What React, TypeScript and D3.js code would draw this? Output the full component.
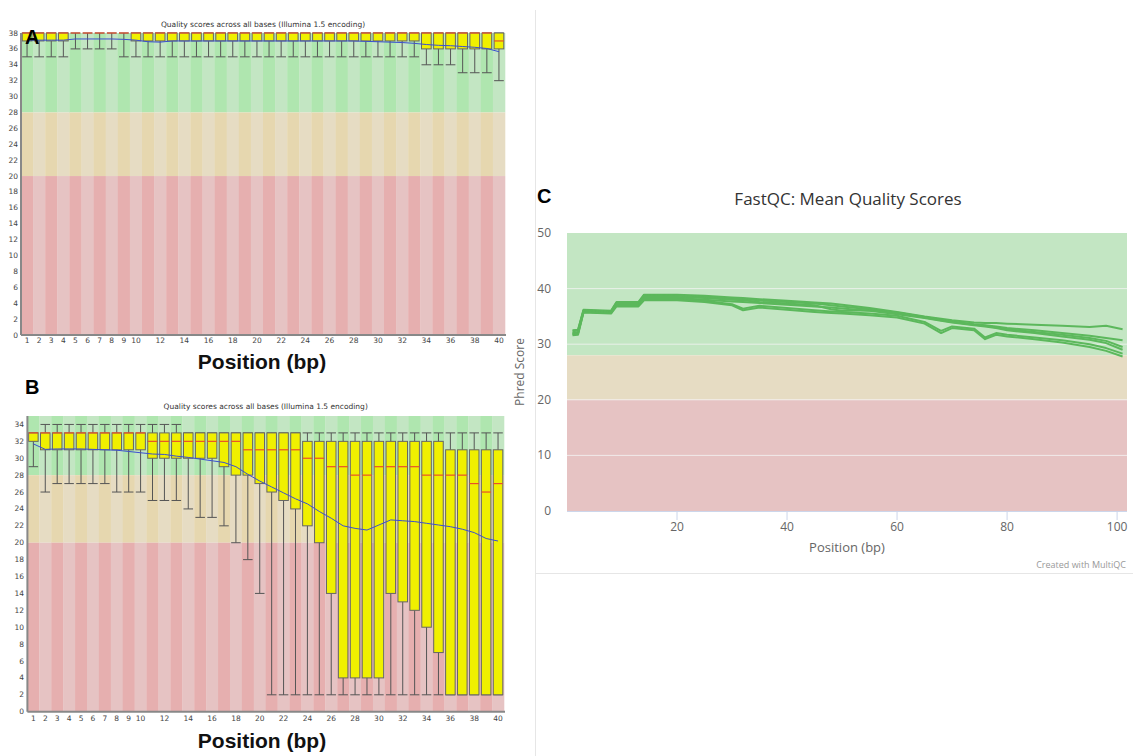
import React from 'react';
import * as d3 from 'd3';

// ---- shared categories ----
const bins = [1,2,3,4,5,6,7,8,9,10,11,12,13,14,15,16,17,18,19,20,21,22,23,24,25,26,27,28,29,30,31,32,33,34,35,36,37,38,39,40];
const binLabels = ['1','2','3','4','5','6','7','8','9','10','12','14','16','18','20','22','24','26','28','30','32','34','36','38','40'];
const title = 'Quality scores across all bases (Illumina 1.5 encoding)';

// ---- panel A ----
const aUpper = [38,38,38,38,38,38,38,38,38,38,38,38,38,38,38,38,38,38,38,38,38,38,38,38,38,38,38,38,38,38,38,38,38,38,38,38,38,38,38,38];
const aLower = [37,37,37,37,38,38,38,38,38,37,37,37,37,37,37,37,37,37,37,37,37,37,37,37,37,37,37,37,37,37,37,37,37,36,36,36,36,36,36,36];
const aMedian = [38,38,38,38,38,38,38,38,38,38,38,38,38,38,38,38,38,38,38,38,38,38,38,38,38,38,38,38,38,38,38,38,38,38,38,38,38,38,38,37];
const aHigh = [38,38,38,38,38,38,38,38,38,38,38,38,38,38,38,38,38,38,38,38,38,38,38,38,38,38,38,38,38,38,38,38,38,38,38,38,38,38,38,38];
const aLow = [35,35,35,35,36,36,36,36,35,35,35,35,35,35,35,35,35,35,35,35,35,35,35,35,35,35,35,35,35,35,35,35,35,34,34,34,33,33,33,32];
const aMean = [37.1,37.1,37.1,37.1,37.25,37.25,37.25,37.25,37.2,37.1,36.9,36.85,37.0,37.0,37.0,37.0,37.0,37.0,37.0,37.0,37.0,37.0,37.0,37.0,37.0,37.0,37.0,37.0,36.95,36.9,36.85,36.8,36.7,36.55,36.45,36.4,36.3,36.2,36.05,35.65];

// ---- panel B ----
const bUpper = [33,33,33,33,33,33,33,33,33,33,33,33,33,33,33,33,33,33,33,33,33,33,33,32,32,32,32,32,32,32,32,32,32,32,32,31,31,31,31,31];
const bLower = [32,31,31,31,31,31,31,31,31,31,30,30,30,30,30,30,29,28,28,27,26,25,24,22,20,14,4,4,4,4,14,13,12,10,7,2,2,2,2,2];
const bMedian = [33,33,33,33,33,33,33,33,33,33,32,32,32,32,32,32,32,32,31,31,31,31,31,30,30,29,29,28,28,29,29,29,29,28,28,28,28,27,26,27];
const bHigh = [33,34,34,34,34,34,34,34,34,34,34,34,34,33,33,33,33,33,33,33,33,33,33,33,33,33,33,33,33,33,33,33,33,33,33,33,33,33,33,33];
const bLow = [29,26,27,27,27,27,27,26,26,26,25,25,25,24,23,23,22,20,18,14,2,2,2,2,2,2,2,2,2,2,2,2,2,2,2,2,2,2,2,2];
const bMean = [31.7,31.05,31.1,31.1,31.1,31.05,31.0,30.95,30.8,30.65,30.5,30.45,30.25,30.1,29.9,29.7,29.5,29.0,28.1,27.3,26.6,25.9,25.2,24.6,23.7,22.9,22.0,21.7,21.5,22.1,22.7,22.6,22.5,22.3,22.1,21.9,21.6,21.2,20.5,20.2];

// ---- panel C ----
const cPos = [1,2,3,8,9,13,14,20,25,30,32,35,40,45,48,50,55,60,65,68,70,74,76,78,80,85,90,95,98,101];
const cS1 = [32.5,32.6,36.2,36.0,37.6,37.6,38.9,38.9,38.7,38.4,38.3,38.1,37.8,37.5,37.3,37.1,36.5,35.8,35.0,34.6,34.3,33.9,33.8,33.8,33.7,33.5,33.3,33.1,33.3,32.7];
const cS2 = [32.3,32.5,36.1,35.9,37.5,37.5,38.8,38.7,38.5,38.2,38.1,37.9,37.6,37.3,37.0,36.8,36.3,35.7,34.9,34.4,34.1,33.6,33.4,33.2,32.9,32.5,32.0,31.5,31.1,30.7];
const cS3 = [32.0,32.2,36.0,35.8,37.4,37.4,38.6,38.5,38.3,38.0,37.9,37.6,37.3,37.0,36.3,36.0,36.1,35.6,34.8,34.3,34.0,33.5,33.3,33.0,32.7,32.2,31.7,31.1,30.6,29.5];
const cS4 = [31.9,32.0,35.9,35.7,37.2,37.2,38.3,38.3,38.0,37.7,37.6,37.4,37.1,36.8,36.6,36.4,36.0,35.4,34.7,34.2,33.9,33.4,33.2,32.9,32.5,32.0,31.4,30.8,30.2,29.0];
const cS5 = [31.8,31.9,35.8,35.6,37.0,37.0,38.1,38.1,37.8,37.2,36.4,36.9,36.5,36.1,35.9,35.8,35.5,35.1,34.0,32.4,33.2,32.8,31.2,32.0,31.7,31.2,30.7,30.0,29.3,28.3];
const cS6 = [31.6,31.7,35.7,35.5,36.8,36.8,37.9,37.9,37.6,37.0,36.1,36.6,36.2,35.8,35.6,35.5,35.2,34.8,33.7,32.0,32.9,32.5,30.9,31.7,31.4,30.9,30.3,29.5,28.8,27.8];
const cSeries = [cS1, cS2, cS3, cS4, cS5, cS6];
const cYTicks = [0, 10, 20, 30, 40, 50];
const cXTicks = [20, 40, 60, 80, 100];

const zones = [
  { lo: 28, hi: 100, dark: '#afe6af', light: '#c3e6c3' },
  { lo: 20, hi: 28, dark: '#e6d7af', light: '#e6dcc3' },
  { lo: 0, hi: 20, dark: '#e6afaf', light: '#e6c3c3' },
];

const smallFont = 'DejaVu Sans, sans-serif';
const boldFont = 'Liberation Sans, Arial, sans-serif';

function BoxPanel(props) {
  const { left, right, top, bottom, yMax, upper, lower, median, high, low, mean,
    letter, letterY, titleY, xLabelY, tickY, yLabelX } = props;
  const x = d3.scaleBand().domain(bins.map(String)).range([left, right]);
  const y = d3.scaleLinear().domain([0, yMax]).range([bottom, top]);
  const bw = x.bandwidth();
  const w = bw * 0.8;
  const yTicks = d3.range(0, yMax + 1, 2);
  const line = d3.line().x((d, i) => x(String(bins[i])) + bw / 2).y(d => y(d));

  return (
    <g>
      {bins.map((b, i) => zones.map((z, j) => (
        <rect key={b + '-' + j} x={x(String(b))} width={bw + 0.3}
          y={y(Math.min(z.hi, yMax))} height={y(z.lo) - y(Math.min(z.hi, yMax))}
          fill={i % 2 === 0 ? z.dark : z.light} />
      )))}
      {bins.map((b, i) => {
        const cx = x(String(b)) + bw / 2;
        return (
          <g key={'box' + b}>
            <line x1={cx} x2={cx} y1={y(high[i])} y2={y(low[i])} stroke="#555" strokeWidth={1} />
            <line x1={cx - w / 2} x2={cx + w / 2} y1={y(high[i])} y2={y(high[i])} stroke="#555" strokeWidth={1} />
            <line x1={cx - w / 2} x2={cx + w / 2} y1={y(low[i])} y2={y(low[i])} stroke="#555" strokeWidth={1} />
            <rect x={cx - w / 2} width={w} y={y(upper[i])} height={y(lower[i]) - y(upper[i])}
              fill="#f0f000" stroke="#666" strokeWidth={1} />
            <line x1={cx - w / 2} x2={cx + w / 2} y1={y(median[i])} y2={y(median[i])} stroke="#e8502a" strokeWidth={1.2} />
          </g>
        );
      })}
      <path d={line(mean)} fill="none" stroke="#3a4fd0" strokeWidth={1} />
      <line x1={left} x2={left} y1={top} y2={bottom} stroke="#888" strokeWidth={2} />
      <line x1={left} x2={right + 1} y1={bottom} y2={bottom} stroke="#888" strokeWidth={2} />
      {yTicks.map(t => (
        <text key={'yt' + t} x={yLabelX} y={y(t) + 2.5} textAnchor="end" fontSize={7.5}
          fontFamily={smallFont} fill="#444">{t}</text>
      ))}
      {binLabels.map(t => (
        <text key={'xt' + t} x={x(t) + bw / 2} y={tickY} textAnchor="middle" fontSize={7.5}
          fontFamily={smallFont} fill="#444">{t}</text>
      ))}
      <text x={(left + right) / 2} y={titleY} textAnchor="middle" fontSize={7.5}
        fontFamily={smallFont} fill="#333">{title}</text>
      <text x={262} y={xLabelY} textAnchor="middle" fontSize={21} fontWeight="bold"
        fontFamily={boldFont} fill="#111">Position (bp)</text>
      <text x={25} y={letterY} fontSize={20} fontWeight="bold" fontFamily={boldFont} fill="#000">{letter}</text>
    </g>
  );
}

function MeanPanel() {
  const left = 567, right = 1127, top = 233, bottom = 511;
  const x = d3.scaleLinear().domain([0, 101.8]).range([left, right]);
  const y = d3.scaleLinear().domain([0, 50]).range([bottom, top]);
  const line = d3.line().x((d, i) => x(cPos[i])).y(d => y(d));
  const font = 'Open Sans, DejaVu Sans, sans-serif';
  const bands = [
    { lo: 28, hi: 50, c: '#c3e6c3' },
    { lo: 20, hi: 28, c: '#e6dcc3' },
    { lo: 0, hi: 20, c: '#e6c3c3' },
  ];
  return (
    <g>
      <line x1={535.5} x2={535.5} y1={10} y2={756} stroke="#e6e6e6" strokeWidth={1} />
      <line x1={535.5} x2={1133} y1={573.5} y2={573.5} stroke="#e6e6e6" strokeWidth={1} />
      <text x={537} y={203} fontSize={20} fontWeight="bold" fontFamily={boldFont} fill="#000">C</text>
      <text x={848} y={205} textAnchor="middle" fontSize={17} fontFamily={font} fill="#333">FastQC: Mean Quality Scores</text>
      {bands.map(b => (
        <rect key={b.lo} x={left} width={right - left} y={y(b.hi)} height={y(b.lo) - y(b.hi)} fill={b.c} />
      ))}
      {cYTicks.filter(t => t > 0 && t < 50).map(t => (
        <line key={'g' + t} x1={left} x2={right} y1={y(t)} y2={y(t)} stroke="#f4f4f4" strokeOpacity={0.8} strokeWidth={1} />
      ))}
      {cSeries.map((s, i) => (
        <path key={'s' + i} d={line(s)} fill="none" stroke="#5cb85c" strokeWidth={2} strokeLinejoin="round" />
      ))}
      <line x1={left} x2={right} y1={bottom + 0.5} y2={bottom + 0.5} stroke="#ccd6eb" strokeWidth={1} />
      {cXTicks.map(t => (
        <g key={'xt' + t}>
          <line x1={x(t)} x2={x(t)} y1={bottom} y2={bottom + 9} stroke="#ccd6eb" strokeWidth={1} />
          <text x={x(t)} y={bottom + 20} textAnchor="middle" fontSize={12} fontFamily={font} fill="#666">{t}</text>
        </g>
      ))}
      {cYTicks.map(t => (
        <text key={'yt' + t} x={551} y={y(t) + 4} textAnchor="end" fontSize={12} fontFamily={font} fill="#666">{t}</text>
      ))}
      <text transform={`translate(524,${(top + bottom) / 2}) rotate(-90)`} textAnchor="middle" fontSize={12}
        fontFamily={font} fill="#666">Phred Score</text>
      <text x={(left + right) / 2} y={552} textAnchor="middle" fontSize={13} fontFamily={font} fill="#666">Position (bp)</text>
      <text x={1126} y={568} textAnchor="end" fontSize={9} fontFamily={font} fill="#999">Created with MultiQC</text>
    </g>
  );
}

export default function App() {
  return (
    <svg width={1133} height={756} style={{ position: 'absolute', left: 0, top: 0, background: '#fff' }}>
      <rect width={1133} height={756} fill="#fff" />
      <BoxPanel left={21} right={505} top={33} bottom={335} yMax={38}
        upper={aUpper} lower={aLower} median={aMedian} high={aHigh} low={aLow} mean={aMean}
        letter="A" letterY={44} titleY={27} xLabelY={369} tickY={343} yLabelX={18} />
      <BoxPanel left={27.4} right={504} top={416} bottom={711.7} yMax={35}
        upper={bUpper} lower={bLower} median={bMedian} high={bHigh} low={bLow} mean={bMean}
        letter="B" letterY={394} titleY={409} xLabelY={748} tickY={721} yLabelX={24} />
      <MeanPanel />
    </svg>
  );
}
